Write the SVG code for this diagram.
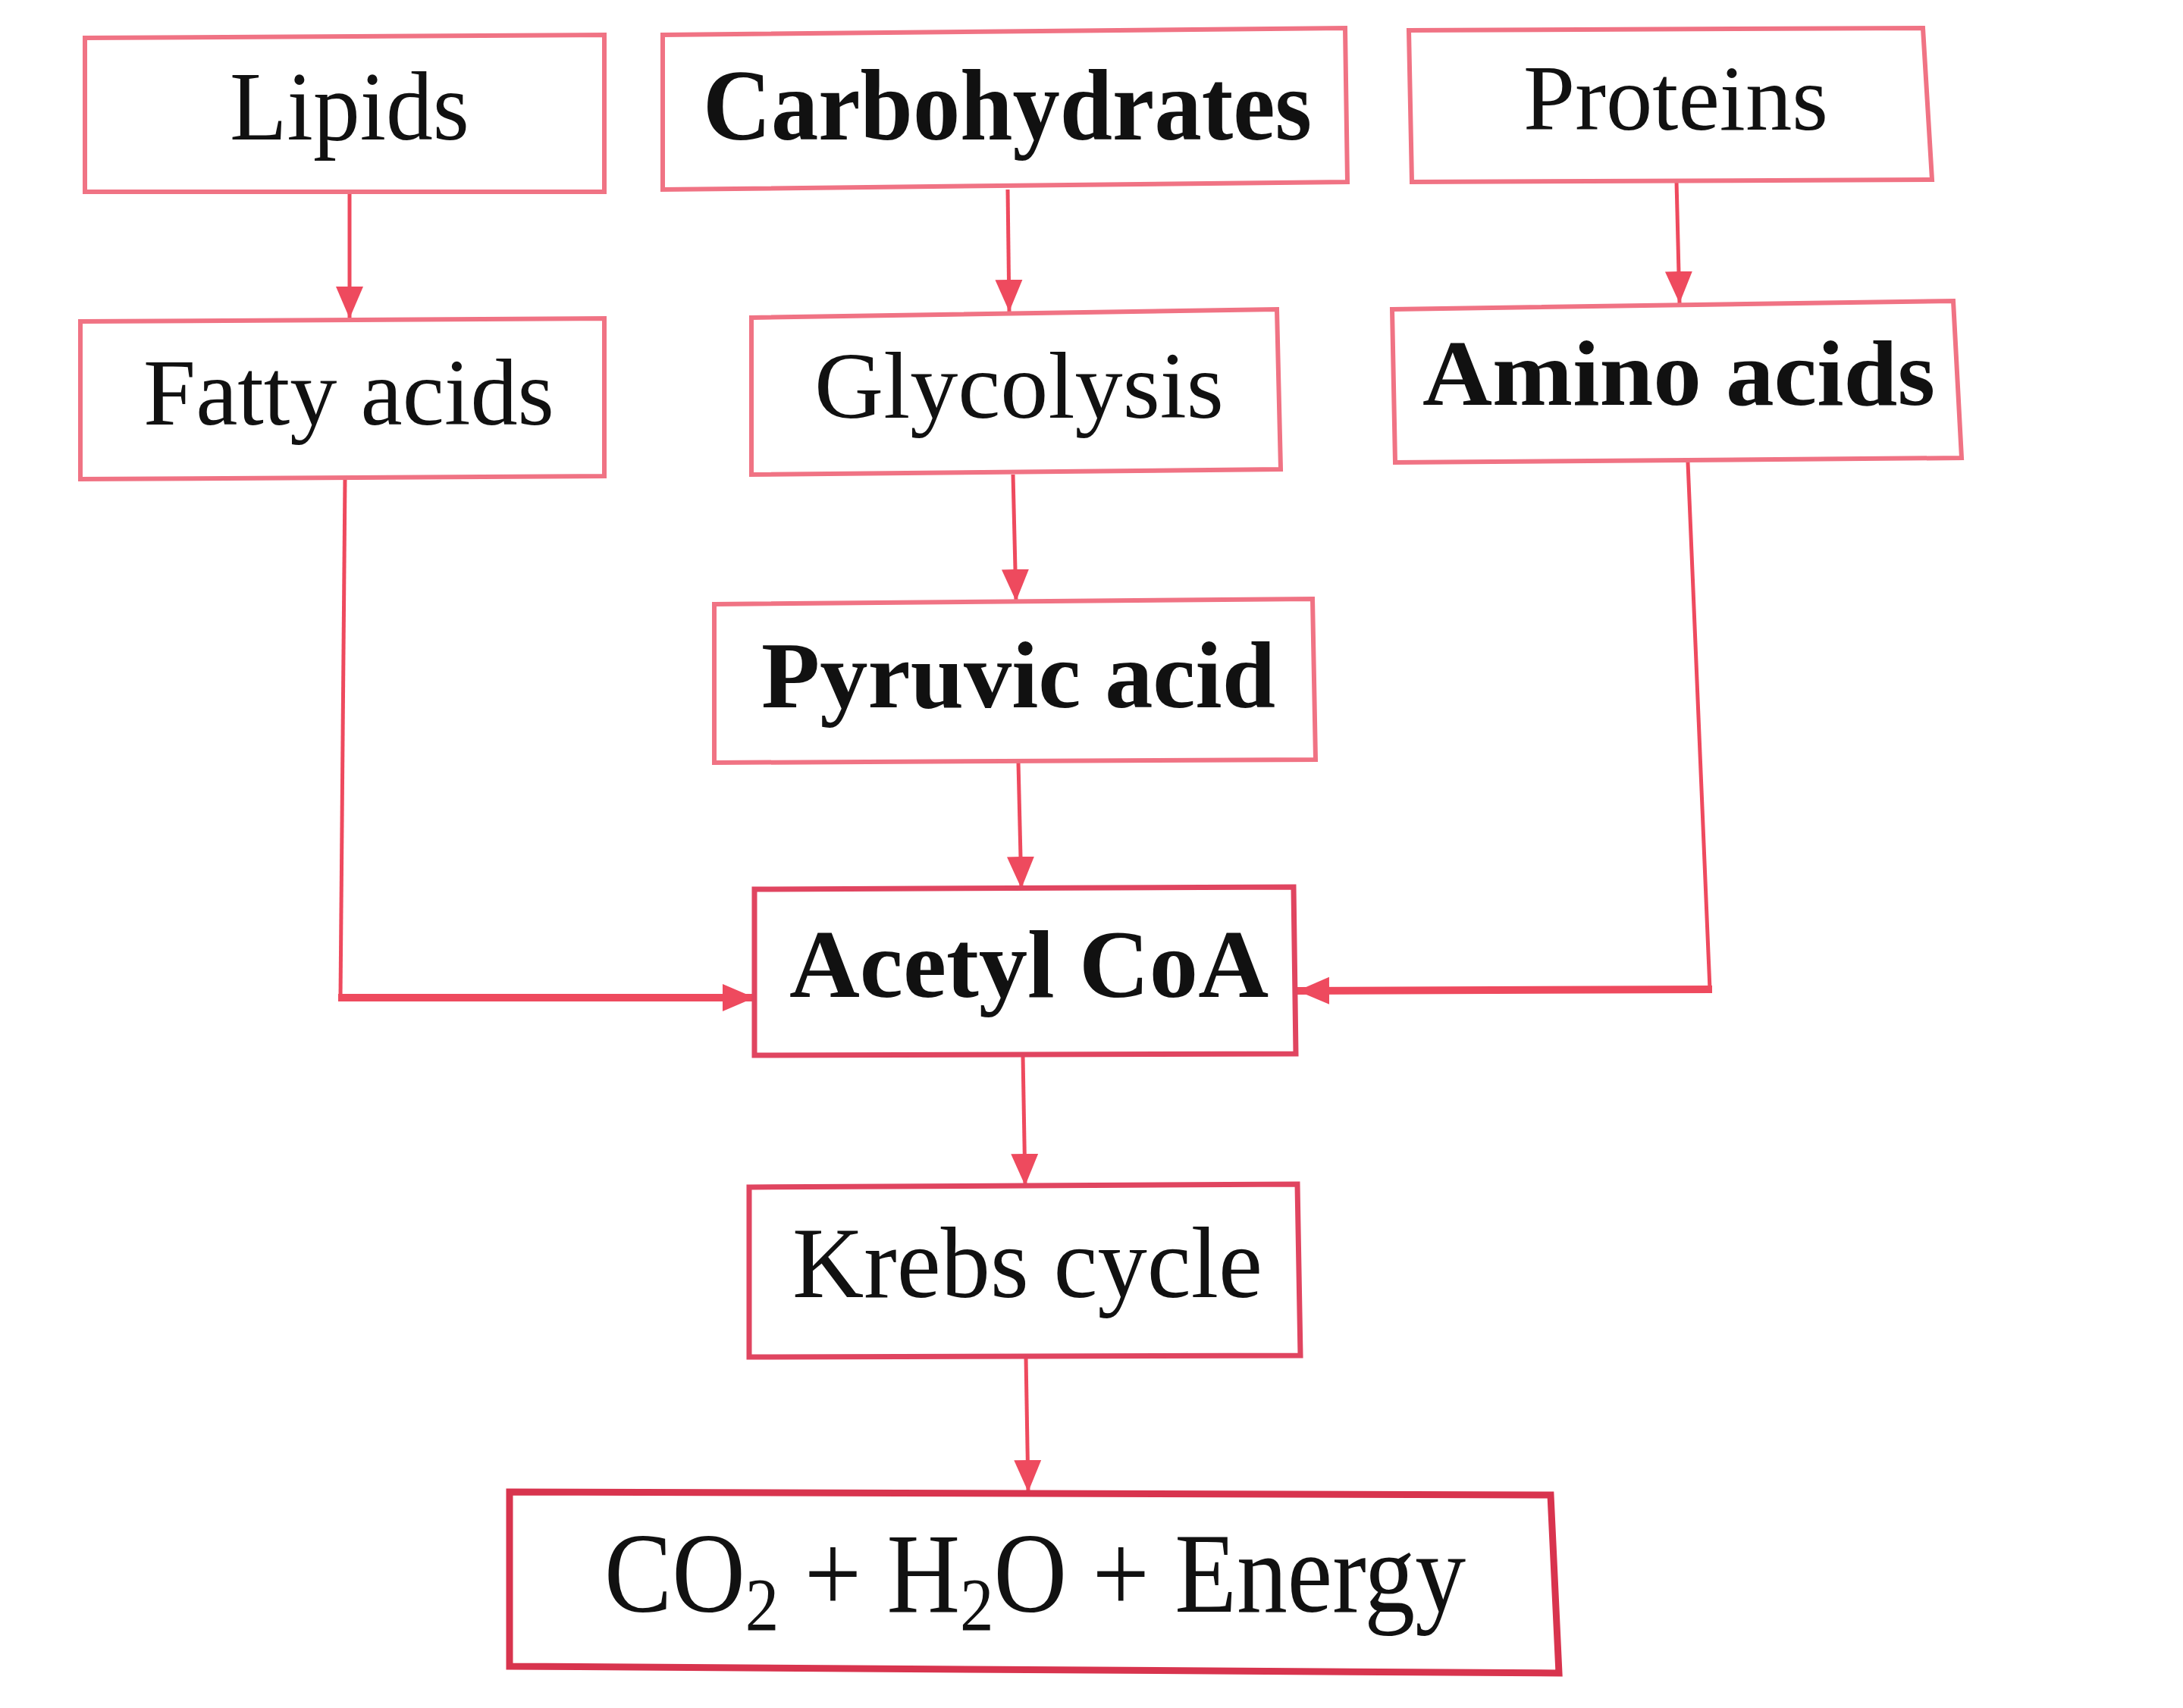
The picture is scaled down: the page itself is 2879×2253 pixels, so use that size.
<svg xmlns="http://www.w3.org/2000/svg" width="2879" height="2253" viewBox="0 0 2879 2253">
<defs>
<style>
.box{fill:none;stroke:#f07384;stroke-width:6;stroke-linejoin:miter}
.box2{fill:none;stroke:#e04560;stroke-width:7}
.box3{fill:none;stroke:#d8344e;stroke-width:9}
.lbl{font-family:"Liberation Serif","Times New Roman",serif;fill:#111}
.b{font-weight:bold}
.con{fill:none;stroke:#ee4a5e;stroke-width:5}
.thick{stroke-width:10}
</style>
<marker id="ah" markerUnits="userSpaceOnUse" markerWidth="44" markerHeight="40" refX="42" refY="20" orient="auto">
<path d="M0,2 L42,20 L0,38 Z" fill="#ee4a5e"/>
</marker>
</defs>
<rect width="2879" height="2253" fill="#ffffff"/>
<g id="connectors">
<path class="con" d="M461,253 L461,420" marker-end="url(#ah)"/>
<path class="con" d="M1329,250 L1331,411" marker-end="url(#ah)"/>
<path class="con" d="M2211,239 L2215,400" marker-end="url(#ah)"/>
<path class="con" d="M1336,626 L1340,793" marker-end="url(#ah)"/>
<path class="con" d="M1343,1006 L1347,1172" marker-end="url(#ah)"/>
<path class="con" d="M1349,1392 L1352,1564" marker-end="url(#ah)"/>
<path class="con" d="M1353,1790 L1356,1968" marker-end="url(#ah)"/>
<path class="con" d="M455,632 L449,1316"/>
<path class="con thick" d="M446,1316 L995,1316" marker-end="url(#ah)"/>
<path class="con" d="M2226,610 L2255,1305"/>
<path class="con thick" d="M2258,1305 L1711,1307" marker-end="url(#ah)"/>
</g>
<g id="lipids">
<polygon class="box" points="112,50 797,46 797,253 112,253"/>
<text class="lbl" x="303" y="184" font-size="130" textLength="316" lengthAdjust="spacingAndGlyphs">Lipids</text>
</g>
<g id="carbohydrates">
<polygon class="box" points="874,46 1774,37 1777,240 874,250"/>
<text class="lbl b" x="927" y="184" font-size="133" textLength="803" lengthAdjust="spacingAndGlyphs">Carbohydrates</text>
</g>
<g id="proteins">
<polygon class="box" points="1858,40 2536,37 2548,237 1862,240"/>
<text class="lbl" x="2009" y="171" font-size="122" textLength="402" lengthAdjust="spacingAndGlyphs">Proteins</text>
</g>
<g id="fatty-acids">
<polygon class="box" points="106,424 797,420 797,628 106,632"/>
<text class="lbl" x="189" y="560" font-size="125" textLength="542" lengthAdjust="spacingAndGlyphs">Fatty acids</text>
</g>
<g id="glycolysis">
<polygon class="box" points="991,419 1684,408 1689,619 991,626"/>
<text class="lbl" x="1074" y="551" font-size="125" textLength="540" lengthAdjust="spacingAndGlyphs">Glycolysis</text>
</g>
<g id="amino-acids">
<polygon class="box" points="1836,408 2576,397 2587,604 1840,610"/>
<text class="lbl b" x="1876" y="534" font-size="122" textLength="676" lengthAdjust="spacingAndGlyphs">Amino acids</text>
</g>
<g id="pyruvic-acid">
<polygon class="box" points="942,797 1731,790 1735,1002 942,1006"/>
<text class="lbl b" x="1004" y="933" font-size="125" textLength="678" lengthAdjust="spacingAndGlyphs">Pyruvic acid</text>
</g>
<g id="acetyl-coa">
<polygon class="box2" points="995,1173 1706,1170 1709,1390 995,1392"/>
<text class="lbl b" x="1041" y="1315" font-size="128" textLength="632" lengthAdjust="spacingAndGlyphs">Acetyl CoA</text>
</g>
<g id="krebs-cycle">
<polygon class="box2" points="988,1566 1711,1562 1715,1788 988,1790"/>
<text class="lbl" x="1045" y="1711" font-size="133" textLength="620" lengthAdjust="spacingAndGlyphs">Krebs cycle</text>
</g>
<g id="products">
<polygon class="box3" points="672,1968 2045,1972 2056,2207 672,2198"/>
<text class="lbl" x="797" y="2126" font-size="150" textLength="1136" lengthAdjust="spacingAndGlyphs">CO<tspan font-size="100" dy="24">2</tspan><tspan dy="-24"> + H</tspan><tspan font-size="100" dy="24">2</tspan><tspan dy="-24">O + Energy</tspan></text>
</g>
</svg>
